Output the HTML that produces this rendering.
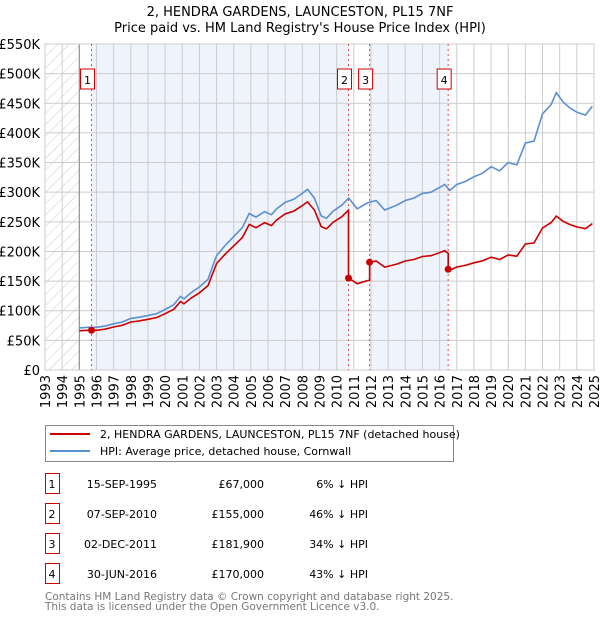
<!DOCTYPE html>
<html><head><meta charset="utf-8"><style>
body{margin:0;background:#fff;font-family:"Liberation Sans","DejaVu Sans",sans-serif;}
svg text{font-family:"DejaVu Sans","Liberation Sans",sans-serif;}
</style></head><body>
<svg id="chart" width="600" height="620" xmlns="http://www.w3.org/2000/svg">
<defs><pattern id="hatch" width="8" height="8" patternUnits="userSpaceOnUse" patternTransform="rotate(45)"><line x1="0" y1="0" x2="0" y2="8" stroke="#ccc" stroke-width="1"/></pattern>
<clipPath id="clip"><rect x="45" y="44" width="549" height="326"/></clipPath></defs>
<text x="300" y="16" text-anchor="middle" font-size="13">2, HENDRA GARDENS, LAUNCESTON, PL15 7NF</text>
<text x="300" y="32" text-anchor="middle" font-size="13">Price paid vs. HM Land Registry's House Price Index (HPI)</text>
<g id="plot"></g>
<g>
<rect x="45.5" y="425.5" width="408" height="36" fill="#fff" stroke="#888"/>
<line x1="50" y1="434" x2="90" y2="434" stroke="#cc0000" stroke-width="2"/>
<text x="100" y="438" font-size="11">2, HENDRA GARDENS, LAUNCESTON, PL15 7NF (detached house)</text>
<line x1="50" y1="451" x2="90" y2="451" stroke="#5b8fd4" stroke-width="2"/>
<text x="100" y="455" font-size="11">HPI: Average price, detached house, Cornwall</text>
</g>
<g id="table"></g>
<text x="45" y="600" font-size="10.5" fill="#777">Contains HM Land Registry data © Crown copyright and database right 2025.</text>
<text x="45" y="610" font-size="10.5" fill="#777">This data is licensed under the Open Government Licence v3.0.</text>
</svg>
<script>
const hpiYears=[1995.0,1995.5,1996,1996.5,1997,1997.5,1998,1998.5,1999,1999.5,2000,2000.5,2000.9,2001.1,2001.5,2002,2002.5,2003,2003.5,2004,2004.5,2004.9,2005.3,2005.8,2006.2,2006.5,2007,2007.5,2008,2008.3,2008.7,2009.1,2009.4,2009.8,2010.3,2010.7,2011.2,2011.8,2012.3,2012.8,2013.5,2014,2014.5,2015,2015.5,2016,2016.3,2016.6,2017,2017.5,2018,2018.5,2019,2019.5,2020,2020.5,2021,2021.5,2022,2022.5,2022.8,2023.2,2023.6,2024,2024.5,2024.9];
const hpiValues=[71,72,72,74,78,81,87,89,92,95,102,110,124,120,130,140,153,193,210,225,240,264,258,267,262,272,283,288,298,305,290,260,256,268,278,290,272,282,286,270,278,286,290,298,300,308,313,303,313,318,326,332,343,336,350,346,383,386,432,448,468,452,442,435,430,445];
const saleYears=[1995.71,2010.69,2011.92,2016.5];
const salePrices=[67000,155000,181900,170000];
const saleLabels=["1","2","3","4"];
const saleDates=["15-SEP-1995","07-SEP-2010","02-DEC-2011","30-JUN-2016"];
const salePriceText=["£67,000","£155,000","£181,900","£170,000"];
const saleHpiText=["6% ↓ HPI","46% ↓ HPI","34% ↓ HPI","43% ↓ HPI"];
const yTicks=[0,50,100,150,200,250,300,350,400,450,500,550];
const yTickLabels=["£0","£50K","£100K","£150K","£200K","£250K","£300K","£350K","£400K","£450K","£500K","£550K"];
const xTicks=[1993,1994,1995,1996,1997,1998,1999,2000,2001,2002,2003,2004,2005,2006,2007,2008,2009,2010,2011,2012,2013,2014,2015,2016,2017,2018,2019,2020,2021,2022,2023,2024,2025];

const NS="http://www.w3.org/2000/svg";
const X0=45,X1=594,Y0=370,Y1=44;
const xs=y=>X0+(y-1993)/(2025-1993)*(X1-X0);
const ys=v=>Y0-v/550*(Y0-Y1);
function mk(tag,attrs,parent){const e=document.createElementNS(NS,tag);for(const k in attrs)e.setAttribute(k,attrs[k]);parent.appendChild(e);return e;}
const plot=document.getElementById('plot');
function hpiAt(t){if(t<=hpiYears[0])return hpiValues[0];for(let i=1;i<hpiYears.length;i++){if(t<=hpiYears[i]){const f=(t-hpiYears[i-1])/(hpiYears[i]-hpiYears[i-1]);return hpiValues[i-1]+f*(hpiValues[i]-hpiValues[i-1]);}}return hpiValues[hpiValues.length-1];}

let bg=mk('rect',{x:X0,y:Y1,width:X1-X0,height:Y0-Y1,fill:'#fff'},plot);

let sh1=mk('rect',{x:xs(saleYears[0]),y:Y1,width:xs(saleYears[1])-xs(saleYears[0]),height:Y0-Y1,fill:'#eef3fc'},plot);

let sh2=mk('rect',{x:xs(saleYears[2]),y:Y1,width:xs(saleYears[3])-xs(saleYears[2]),height:Y0-Y1,fill:'#eef3fc'},plot);

let ht=mk('rect',{x:X0,y:Y1,width:xs(1995)-X0,height:Y0-Y1,fill:'url(#hatch)'},plot);


yTicks.forEach((v,i)=>{
 const g=mk('line',{x1:X0,x2:X1,y1:ys(v),y2:ys(v),stroke:'#ccc','stroke-width':1},plot);
 
 const t=mk('text',{x:40,y:ys(v)+5,'text-anchor':'end','font-size':13},plot);t.textContent=yTickLabels[i];
 
});
xTicks.forEach(yr=>{
 const g=mk('line',{x1:xs(yr),x2:xs(yr),y1:Y1,y2:Y0,stroke:'#ccc','stroke-width':1},plot);
 
 const t=mk('text',{x:0,y:0,'text-anchor':'end','font-size':13,transform:`translate(${xs(yr)+5},375) rotate(-90)`},plot);t.textContent=yr;
 
});
let ax=mk('line',{x1:xs(1995),x2:xs(1995),y1:Y1,y2:Y0,stroke:'#888','stroke-width':1},plot);

let fr=mk('rect',{x:X0,y:Y1,width:X1-X0,height:Y0-Y1,fill:'none',stroke:'#ccc'},plot);


saleYears.forEach((t,i)=>{
 const l=mk('line',{x1:xs(t),x2:xs(t),y1:Y1,y2:Y0,stroke:'#e05050','stroke-width':1,'stroke-dasharray':'2,3'},plot);
 
 const b=mk('rect',{x:xs(t)-11,y:69,width:14,height:20,fill:'#fff',stroke:'#c00','stroke-width':1},plot);
 
 const tx=mk('text',{x:xs(t)-4,y:84,'text-anchor':'middle','font-size':11},plot);tx.textContent=saleLabels[i];
 
});

const cg=mk('g',{'clip-path':'url(#clip)'},plot);
let hp=hpiYears.map((t,i)=>(i?'L':'M')+xs(t).toFixed(1)+','+ys(hpiValues[i]).toFixed(1)).join('');
let hl=mk('path',{d:hp,fill:'none',stroke:'#5b8fd4','stroke-width':1.6},cg);


let pts=[];
for(let k=0;k<saleYears.length;k++){
 const ratio=salePrices[k]/1000/hpiAt(saleYears[k]);
 const a=k===0?1995.0:saleYears[k],b=k<saleYears.length-1?saleYears[k+1]:2024.9;
 pts.push([a,hpiAt(a)*ratio]);
 hpiYears.forEach((t,i)=>{if(t>a&&t<b)pts.push([t,hpiValues[i]*ratio]);});
 pts.push([b,hpiAt(b)*ratio]);
}
let rp=pts.map((p,i)=>(i?'L':'M')+xs(p[0]).toFixed(1)+','+ys(p[1]).toFixed(1)).join('');
let rl=mk('path',{d:rp,fill:'none',stroke:'#cc0000','stroke-width':1.6},cg);

saleYears.forEach((t,i)=>{
 const c=mk('circle',{cx:xs(t),cy:ys(salePrices[i]/1000),r:3.5,fill:'#cc0000'},cg);
 
});

const tb=document.getElementById('table');
saleLabels.forEach((lab,i)=>{
 const y=483+i*30;
 const b=mk('rect',{x:45.5,y:y-9.5,width:14,height:20,fill:'#fff',stroke:'#c00'},tb);
 
 const cells=[[52,'middle',lab,'table-row-number'],[157,'end',saleDates[i],'table-date'],[264,'end',salePriceText[i],'table-price'],[368,'end',saleHpiText[i],'table-hpi-diff']];
 cells.forEach(c=>{const t=mk('text',{x:c[0],y:y+5,'text-anchor':c[1],'font-size':11},tb);t.textContent=c[2];
  });
});
</script>
</body></html>
